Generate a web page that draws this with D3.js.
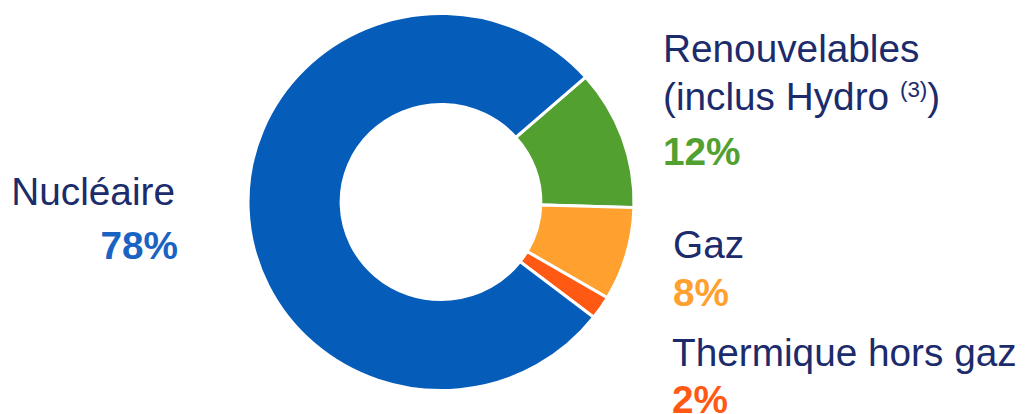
<!DOCTYPE html>
<html>
<head>
<meta charset="utf-8">
<script src="https://cdn.jsdelivr.net/npm/d3@7"></script>
<style>
  body { margin: 0; background: #fff; }
  svg { display: block; font-family: "Liberation Sans", Arial, sans-serif; }
</style>
</head>
<body>
<div id="chart"></div>
<script>
// Data (clockwise, starting at upper right)
var categories = ["Renouvelables", "Gaz", "Thermique hors gaz", "Nucléaire"];
var shares = [12, 8, 2, 78];
var colors = ["#52A02F", "#FFA02F", "#FF5913", "#055CB9"];
var pctColors = ["#52A02F", "#FFA02F", "#FF5913", "#1A63C2"];

const width = 1027, height = 414;
const cx = 441, cy = 202;
const outerR = 188.5, innerR = 97.5;
const stretch = 1.024;   // the source picture is slightly wider than tall
const labelColor = "#1B2B6B";
const fs = 38;

const svg = d3.select("#chart")
    .append("svg")
    .attr("width", width)
    .attr("height", height);

const pie = d3.pie()
    .sort(null)
    .value(d => d)
    .startAngle(48.5 * Math.PI / 180)
    .endAngle(48.5 * Math.PI / 180 + 2 * Math.PI);

const arc = d3.arc()
    .innerRadius(innerR)
    .outerRadius(outerR);

const donut = svg.append("g")
    .attr("transform", `translate(${cx}, ${cy}) scale(${stretch}, 1)`);

donut.selectAll("path")
    .data(pie(shares))
    .enter()
    .append("path")
    .attr("d", arc)
    .attr("fill", (d, i) => colors[i])
    .attr("stroke", "#fff")
    .attr("stroke-width", 3);

// helper: a text line placed at (x, y), slightly widened like the source
function label(x, y, anchor) {
    return svg.append("g")
        .attr("transform", `translate(${x}, ${y}) scale(1.02, 1)`)
        .append("text")
        .attr("text-anchor", anchor || "start")
        .attr("font-size", fs);
}

// Renouvelables
label(663, 62).attr("fill", labelColor).text(categories[0]);
const t2 = label(663, 110).attr("fill", labelColor);
t2.append("tspan").text("(inclus Hydro ");
t2.append("tspan").attr("font-size", 22).attr("dy", -13).text("(3)");
t2.append("tspan").attr("dy", 13).text(")");
label(663, 165).attr("font-weight", "bold").attr("fill", pctColors[0])
    .text(shares[0] + "%");

// Gaz
label(673, 258).attr("fill", labelColor).text(categories[1]);
label(673, 306).attr("font-weight", "bold").attr("fill", pctColors[1])
    .text(shares[1] + "%");

// Thermique hors gaz
label(672, 366).attr("fill", labelColor).text(categories[2]);
label(672, 413).attr("font-weight", "bold").attr("fill", pctColors[2])
    .text(shares[2] + "%");

// Nucléaire
label(175, 205, "end").attr("fill", labelColor).text(categories[3]);
label(178, 259, "end").attr("font-weight", "bold").attr("fill", pctColors[3])
    .text(shares[3] + "%");
</script>
</body>
</html>
